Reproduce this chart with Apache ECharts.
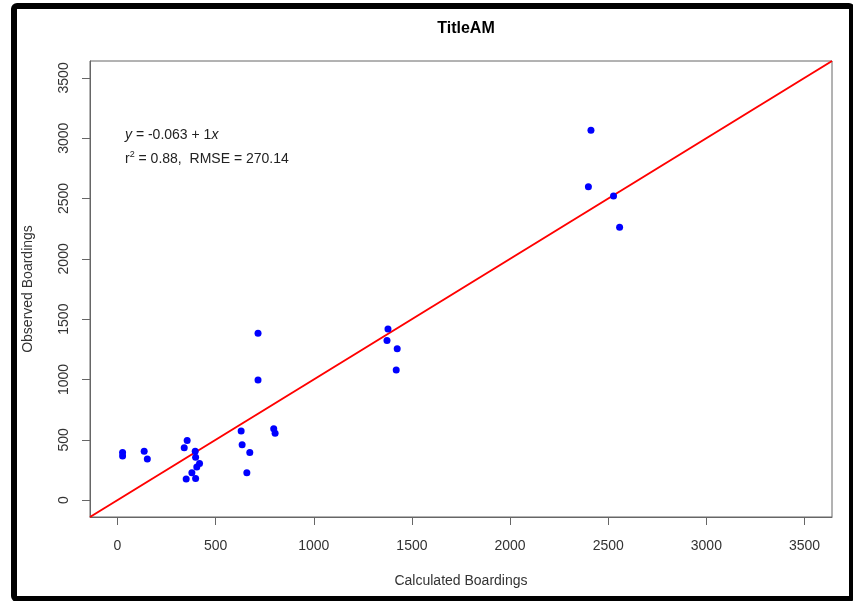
<!DOCTYPE html>
<html>
<head>
<meta charset="utf-8">
<script src="https://cdn.jsdelivr.net/npm/echarts@6/dist/echarts.min.js"></script>
<style>
  html, body { margin: 0; padding: 0; background: #fff; }
  #main { width: 853px; height: 601px; }
</style>
</head>
<body>
<div id="main"></div>
<script>
// calculated vs observed boardings
var calculated = [26, 26, 136, 152, 355, 340, 396, 398, 418, 404, 379, 350, 398,
    630, 635, 674, 659, 796, 803, 716, 716,
    1378, 1373, 1425, 1420, 2412, 2399, 2527, 2558];
var observed = [395, 365, 404, 340, 495, 434, 404, 356, 304, 274, 226, 174, 180,
    572, 458, 395, 226, 591, 555, 1384, 995,
    1418, 1324, 1254, 1078, 3065, 2598, 2520, 2261];

// fit y = a + b*x
var fitIntercept = -0.063;
var fitSlope = 1;
var fitR2 = 0.88;
var fitRmse = 270.14;

var tickValues = [0, 500, 1000, 1500, 2000, 2500, 3000, 3500];
var axisMin = -140, axisMax = 3640;   // xlim = ylim = c(0,3500) with 4% padding

var points = calculated.map(function (c, i) { return [c, observed[i]]; });
var fitLine = [axisMin, axisMax].map(function (x) { return [x, fitIntercept + fitSlope * x]; });

var font = '"Liberation Sans", Arial, sans-serif';
var textCol = '#333';
var boxCol = '#666';

function axisOpt(name, gap, isY) {
    return {
        type: 'value',
        min: axisMin,
        max: axisMax,
        name: name,
        nameLocation: 'middle',
        nameGap: gap,
        nameTextStyle: { fontFamily: font, fontSize: 14, color: textCol },
        axisLine: { show: true, onZero: false, lineStyle: { color: boxCol, width: 1 } },
        axisTick: { show: true, inside: false, length: 8, customValues: tickValues, lineStyle: { color: boxCol } },
        axisLabel: {
            customValues: tickValues,
            formatter: function (v) { return String(v); },
            rotate: isY ? 90 : 0,
            margin: isY ? 19 : 22,
            fontFamily: font, fontSize: 14, color: textCol
        },
        splitLine: { show: false }
    };
}

var chart = echarts.init(document.getElementById('main'));
var option = {
    backgroundColor: '#fff',
    animation: false,
    title: {
        text: 'TitleAM',
        left: 461,
        textAlign: 'center',
        top: 16,
        textStyle: { fontFamily: font, fontSize: 16, fontWeight: 'bold', color: '#000' }
    },
    grid: {
        left: 90, right: 21, top: 61, bottom: 84,
        show: true, borderColor: boxCol, borderWidth: 1, backgroundColor: 'transparent'
    },
    xAxis: axisOpt('Calculated Boardings', 57, false),
    yAxis: axisOpt('Observed Boardings', 55, true),
    graphic: [
        {
            type: 'rect',
            shape: { x: 14, y: 6, width: 838, height: 593, r: 3 },
            style: { fill: 'none', stroke: '#000', lineWidth: 6 },
            silent: true
        },
        {
            type: 'text',
            left: 125, top: 128,
            style: {
                text: '{i|y} = ' + fitIntercept + ' + ' + fitSlope + '{i|x}',
                fontFamily: font, fontSize: 14, fill: '#222',
                rich: { i: { fontStyle: 'italic', fontFamily: font, fontSize: 14 } }
            }
        },
        {
            type: 'text',
            left: 125, top: 150,
            style: {
                text: 'r{sup|2} = ' + fitR2 + ',  RMSE = ' + fitRmse,
                fontFamily: font, fontSize: 14, fill: '#222', lineHeight: 18,
                rich: { sup: { fontSize: 9, fontFamily: font, verticalAlign: 'top', lineHeight: 18 } }
            }
        }
    ],
    series: [
        {
            type: 'line',
            data: fitLine,
            symbol: 'none',
            lineStyle: { color: '#ff0000', width: 2 },
            z: 2
        },
        {
            type: 'scatter',
            data: points,
            symbol: 'circle',
            symbolSize: 7,
            itemStyle: { color: '#0000ff', opacity: 1 },
            z: 3
        }
    ]
};
chart.setOption(option);
</script>
</body>
</html>
